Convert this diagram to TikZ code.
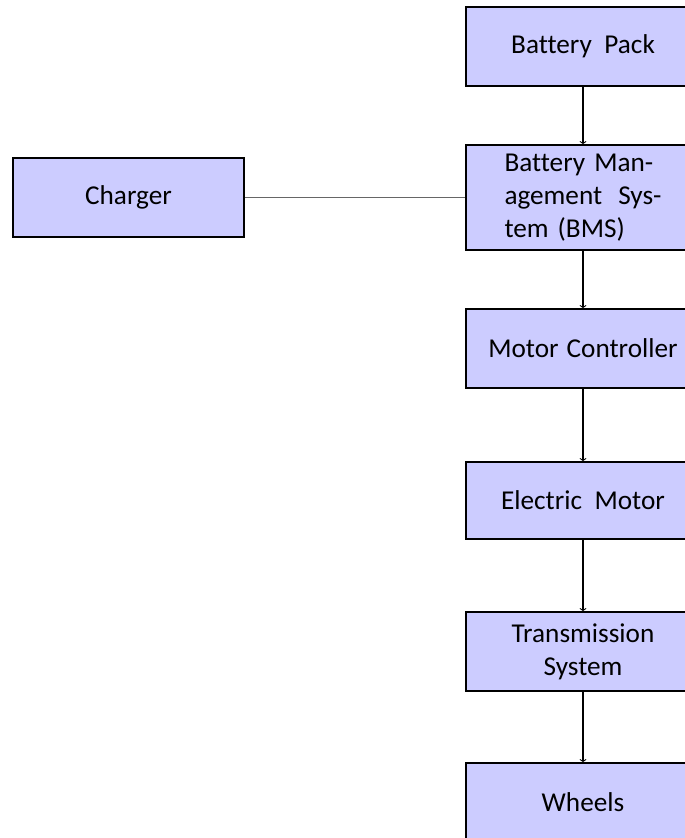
\documentclass[tikz,border=0pt]{standalone}
\usepackage{fontspec}
\setmainfont[Ligatures=NoCommon, WordSpace=1.3]{Carlito}
\usetikzlibrary{arrows.meta}

\tikzset{
  block/.style={draw, line width=1.1pt, fill=blockfill, minimum width=4.68cm,
    minimum height=1.58cm, inner sep=0pt, font=\fontsize{15.5}{18.8}\selectfont},
  flow/.style={line width=1.1pt, -{Straight Barb[length=1.2pt,width=3.5pt,line width=0.5pt]}},
  link/.style={line width=0.6pt, black!60}
}
\definecolor{blockfill}{RGB}{204,204,255}

\begin{document}
\begin{tikzpicture}[x=0.02cm, y=-0.02cm]
    \useasboundingbox (0,0) rectangle (685,838);
    \clip (0,0) rectangle (685,838);
    \node[block] (pack) at (583,46.5) {Battery\ \,Pack};
    \node[block, minimum height=2.1cm, text width=3.14cm, align=left] (bms) at (583,197.5)
        {Battery Man-\\agement\hfill Sys-\\tem (BMS)};
    \node[block] (ctrl) at (583,348.5) {Motor Controller};
    \node[block, minimum height=1.54cm] (motor) at (583,500.5) {Electric\ \,Motor};
    \node[block, align=center] (trans) at (583,651.5) {Transmission\\System};
    \node[block] (wheels) at (583,802.5) {Wheels};
    \node[block, minimum width=4.62cm] (charger) at (128.5,197.5) {Charger};
    \draw[flow] (pack) -- (bms);
    \draw[flow] (bms) -- (ctrl);
    \draw[flow] (ctrl) -- (motor);
    \draw[flow] (motor) -- (trans);
    \draw[flow] (trans) -- (wheels);
    \draw[link] (charger) -- (bms);
\end{tikzpicture}
\end{document}
